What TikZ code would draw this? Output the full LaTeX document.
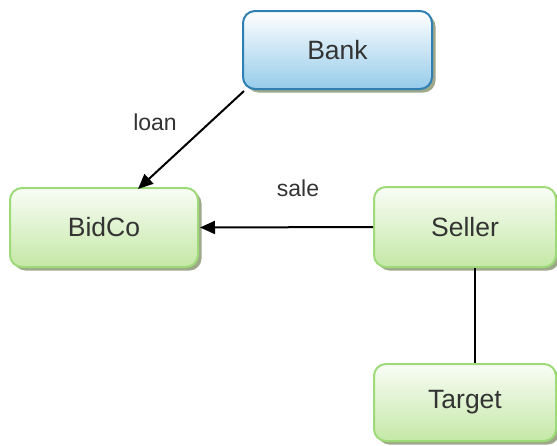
\documentclass[tikz,border=0pt]{standalone}
\usepackage{fontspec}
\setmainfont{Liberation Sans}
\usetikzlibrary{arrows.meta,shadows,calc}
\definecolor{txt}{HTML}{333333}
\definecolor{blueedge}{HTML}{2F80B2}
\definecolor{bluefill}{HTML}{96CBEA}
\definecolor{greenedge}{HTML}{9EDB78}
\definecolor{greenfill}{HTML}{C4E8A6}
\definecolor{shade}{HTML}{9EA88A}
\tikzset{
  box/.style={rectangle, rounded corners=12pt, line width=2pt,
    text=txt, font=\fontsize{26.5}{31}\selectfont,
    drop shadow={shadow xshift=3.5pt, shadow yshift=-3.5pt, fill=shade, opacity=1}},
  bluebox/.style={box, draw=blueedge, top color=white, bottom color=bluefill},
  greenbox/.style={box, draw=greenedge, top color=white!90!greenfill, bottom color=greenfill},
  link/.style={line width=2pt, black},
  arr/.style={link, -{Triangle[length=15pt,width=13pt]}},
  lbl/.style={text=txt, font=\fontsize{23}{27}\selectfont}
}
\begin{document}
\begin{tikzpicture}[x=1pt,y=-1pt]
  \useasboundingbox (0,0) rectangle (557,445);
  \begin{scope}
    \clip (0,0) rectangle (557,445);
    \node[bluebox, minimum width=189pt, minimum height=78pt] (bank) at (337.5,50) {Bank};
    \node[greenbox, minimum width=188pt, minimum height=79pt] (bidco) at (104,227.5) {BidCo};
    \node[greenbox, minimum width=182pt, minimum height=80pt] (seller) at (465,227) {Seller};
    \node[greenbox, minimum width=182pt, minimum height=77pt] (target) at (465,402.5) {Target};
  \end{scope}
  \draw[arr] ([xshift=2pt,yshift=-1pt]bank.south west) -- ([xshift=34pt,yshift=-2pt]bidco.north);
  \draw[arr] (seller.west) -- ([xshift=1pt]bidco.east);
  \draw[link] ([xshift=10pt]seller.south) -- ([xshift=10pt]target.north);
  \node[lbl] (loanlbl) at (155,122) {loan};
  \node[lbl] (salelbl) at (298,188) {sale};
\end{tikzpicture}
\end{document}
